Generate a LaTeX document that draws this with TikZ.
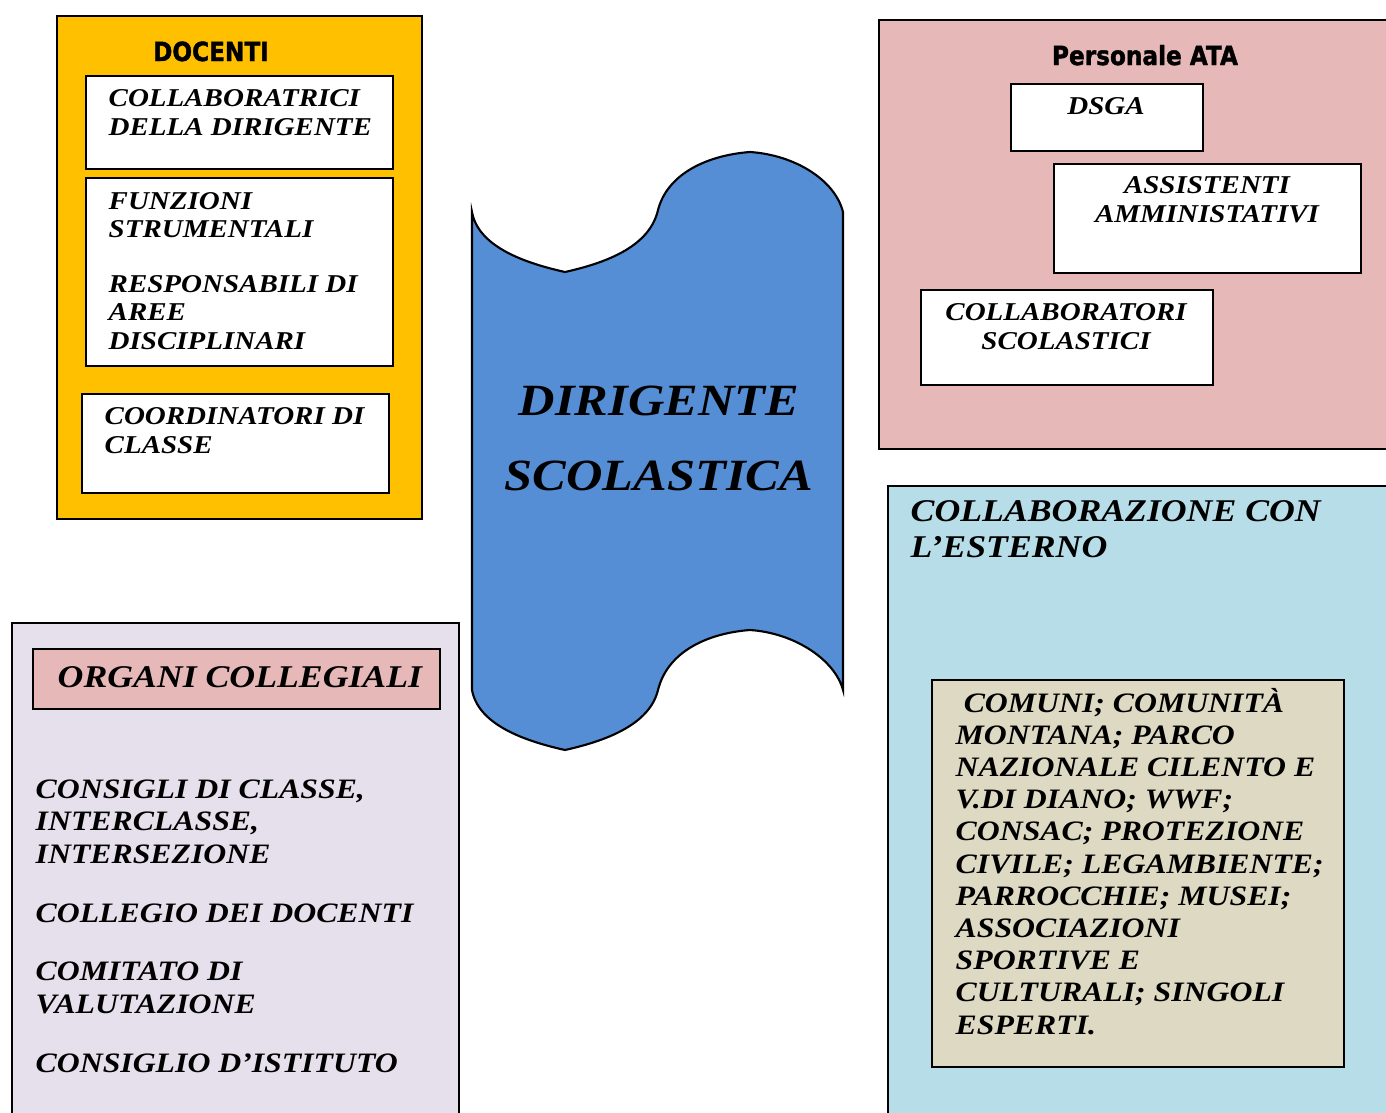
\documentclass[tikz,border=0pt]{standalone}
\usepackage{fontspec}
\setmainfont{Liberation Serif}[FakeStretch=1.13]
\newfontfamily\headfont{DejaVu Sans}[FakeStretch=0.88, FakeBold=1.5]
\usepackage{tikz}
\usetikzlibrary{positioning}
\definecolor{docorange}{HTML}{FFC000}
\definecolor{dirblue}{HTML}{558ED5}
\definecolor{atapink}{HTML}{E6B9B8}
\definecolor{orglilac}{HTML}{E5E0EC}
\definecolor{estblue}{HTML}{B7DEE8}
\definecolor{esttan}{HTML}{DDD9C3}

\begin{document}
\begin{tikzpicture}[x=0.1mm, y=-0.1mm,
  panel/.style={draw=black, line width=0.6pt, rectangle, inner sep=0, anchor=north west},
  whitebox/.style={panel, fill=white},
  txt/.style={inner sep=0, align=left, font=\fontsize{7.3pt}{8pt}\selectfont\bfseries\itshape},
  midtxt/.style={txt, font=\fontsize{8pt}{9.16pt}\selectfont\bfseries\itshape},
  bigtxt/.style={txt, font=\fontsize{9pt}{10pt}\selectfont\bfseries\itshape},
  dirtxt/.style={txt, align=center, font=\fontsize{12.7pt}{21.3pt}\selectfont\bfseries\itshape},
  headtxt/.style={inner sep=0, font=\headfont\bfseries\fontsize{7.5pt}{9pt}\selectfont}
]
  \useasboundingbox (0,0) rectangle (1386,1113);
  \fill[white] (0,0) rectangle (1386,1113);

  \node[panel, fill=docorange, minimum width=36.5mm, minimum height=50.3mm] (docenti) at (56,15) {};
  \node[headtxt, anchor=base] (docenti-t) at (211,61) {DOCENTI};
  \node[whitebox, minimum width=30.7mm, minimum height=9.3mm] (collabdir) at (85,75) {};
  \node[txt, anchor=base west] (collabdir-t) at (108,135) {COLLABORATRICI\\DELLA DIRIGENTE};
  \node[whitebox, minimum width=30.7mm, minimum height=18.8mm] (funzioni) at (85,177) {};
  \node[txt, anchor=base west] (funzioni-t) at (108,349) {FUNZIONI\\STRUMENTALI\\[7.8pt]RESPONSABILI DI\\AREE\\DISCIPLINARI};
  \node[whitebox, minimum width=30.7mm, minimum height=9.9mm] (coord) at (81,393) {};
  \node[txt, anchor=base west] (coord-t) at (104,453) {COORDINATORI DI\\CLASSE};

  \path[draw=black, line width=0.6pt, fill=dirblue] (472,212)
    .. controls (478,245) and (520,262) .. (565,272)
    .. controls (610,262) and (650,245) .. (658,210)
    .. controls (668,172) and (710,155) .. (750,152)
    .. controls (795,155) and (835,180) .. (843,212) -- (843,690)
    .. controls (835,660) and (795,633) .. (750,630)
    .. controls (710,633) and (668,650) .. (658,690)
    .. controls (650,723) and (610,740) .. (565,750)
    .. controls (520,740) and (478,723) .. (472,690) -- cycle;
  \node[dirtxt, anchor=base] (dirigente) at (659,490) {DIRIGENTE\\SCOLASTICA};

  \node[panel, fill=atapink, minimum width=55mm, minimum height=42.9mm] (ata) at (878,19) {};
  \node[headtxt, anchor=base] (ata-t) at (1145,65) {Personale ATA};
  \node[whitebox, minimum width=19.2mm, minimum height=6.7mm] (dsga) at (1010,83) {};
  \node[txt, align=center, anchor=base] (dsga-t) at (1106,114) {DSGA};
  \node[whitebox, minimum width=30.7mm, minimum height=10.9mm] (assist) at (1053,163) {};
  \node[txt, align=center, anchor=base] (assist-t) at (1207,222) {ASSISTENTI\\AMMINISTATIVI};
  \node[whitebox, minimum width=29.2mm, minimum height=9.5mm] (collsc) at (920,289) {};
  \node[txt, align=center, anchor=base] (collsc-t) at (1066,349) {COLLABORATORI\\SCOLASTICI};

  \node[panel, fill=orglilac, minimum width=44.7mm, minimum height=52mm] (organi) at (11,622) {};
  \node[panel, fill=atapink, minimum width=40.7mm, minimum height=6mm] (orgtitle) at (32,648) {};
  \node[bigtxt, anchor=base west] (orgtitle-t) at (57,687) {ORGANI COLLEGIALI};
  \node[midtxt, anchor=base west] (organi-t) at (35,1072) {CONSIGLI DI CLASSE,\\INTERCLASSE,\\INTERSEZIONE\\[7.6pt]COLLEGIO DEI DOCENTI\\[7.6pt]COMITATO DI\\VALUTAZIONE\\[7.6pt]CONSIGLIO D’ISTITUTO};

  \node[panel, fill=estblue, minimum width=55mm, minimum height=70mm] (esterno) at (887,485) {};
  \node[bigtxt, anchor=base west] (esterno-t) at (910,557) {COLLABORAZIONE CON\\L’ESTERNO};
  \node[panel, fill=esttan, minimum width=41.2mm, minimum height=38.7mm] (enti) at (931,679) {};
  \node[midtxt, anchor=base west] (enti-t) at (955,1034) {\hspace{2.3pt}COMUNI; COMUNITÀ\\MONTANA; PARCO\\NAZIONALE CILENTO E\\V.DI DIANO; WWF;\\CONSAC; PROTEZIONE\\CIVILE; LEGAMBIENTE;\\PARROCCHIE; MUSEI;\\ASSOCIAZIONI\\SPORTIVE E\\CULTURALI; SINGOLI\\ESPERTI.};
\end{tikzpicture}
\end{document}
